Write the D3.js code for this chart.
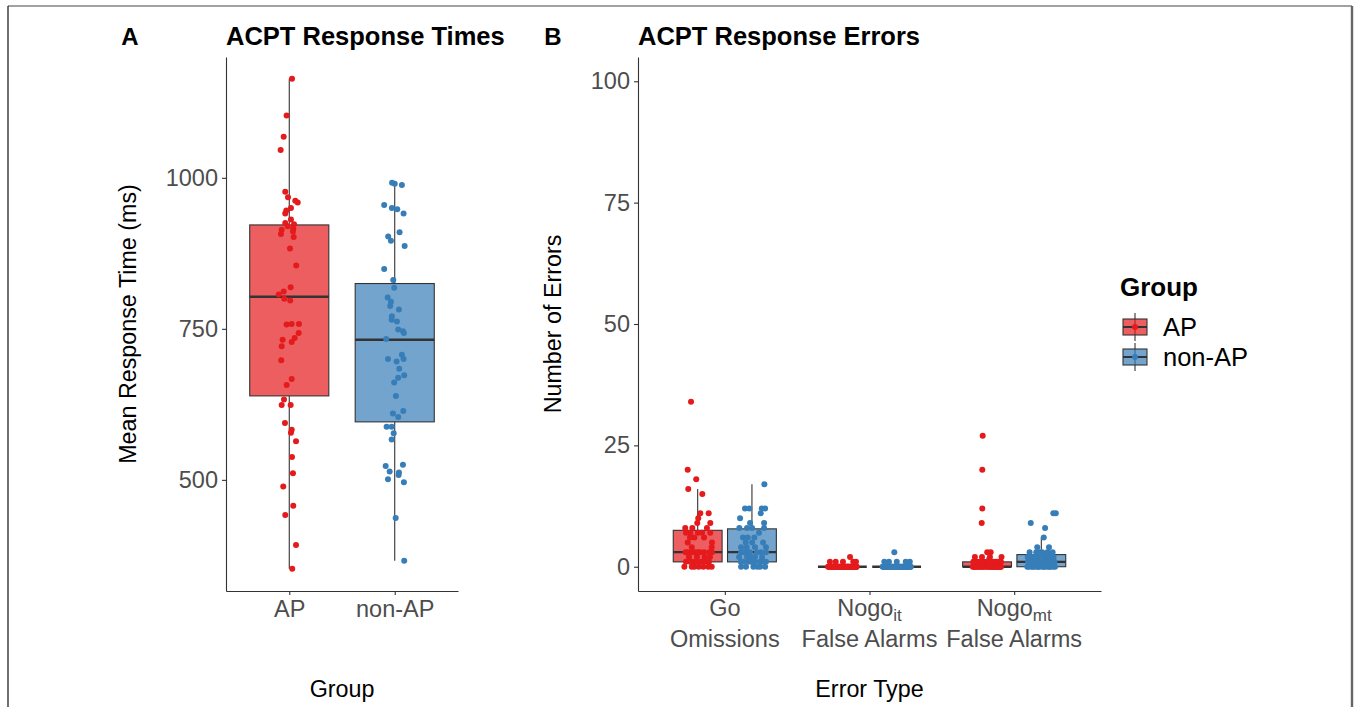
<!DOCTYPE html>
<html><head><meta charset="utf-8">
<script src="https://cdn.jsdelivr.net/npm/d3@7"></script>
<style>body{margin:0;background:#fff}svg{display:block}</style>
</head><body><svg id="c" width="1356" height="707"></svg>
<script>
// ---------------- DATA ----------------
const groups = ["AP", "non-AP"];
const errorTypes = [["Go", "", "Omissions"], ["Nogo", "it", "False Alarms"], ["Nogo", "mt", "False Alarms"]];
const rtTicks = [500, 750, 1000];
const errTicks = [0, 25, 50, 75, 100];

// Panel A: mean response times (ms) and jitter (category units)
const rtAP = [1164,1103,1068,1046,977,968,962,959,950,946,941,931,925,923,920,914,916,911,907,902,883,855,819,812,807,800,797,757,758,758,743,735,732,728,721,698,667,657,633,624,624,594,583,578,564,538,511,489,457,442,392,353];
const rtAPjit = [0.026,-0.025,-0.053,-0.082,-0.038,-0.012,0.057,0.080,0.016,-0.028,-0.038,0.016,-0.038,0.045,-0.015,-0.072,0.038,0.035,-0.079,0.042,0.007,0.066,0.013,-0.053,-0.100,-0.047,0.009,-0.025,0.023,0.092,0.089,0.051,-0.063,0.023,-0.072,-0.076,0.023,-0.025,-0.050,-0.072,0.013,-0.041,0.023,0.016,0.064,0.026,0.035,-0.057,0.038,-0.038,0.064,0.028];
const rtNon = [992,990,988,955,950,948,941,910,903,896,887,849,831,818,802,795,788,782,771,765,762,749,746,743,733,707,700,700,696,684,673,669,661,639,614,610,604,588,588,577,567,525,523,514,512,508,501,496,437,366];
const rtNonJit = [-0.025,0.0,0.068,-0.100,-0.027,0.024,0.084,0.046,-0.062,-0.036,0.094,-0.100,-0.014,-0.005,-0.067,-0.036,-0.043,0.040,-0.027,-0.029,0.021,0.033,0.078,0.087,-0.081,0.068,0.084,-0.064,0.018,0.043,0.090,0.033,-0.005,0.011,0.081,-0.017,0.033,-0.077,-0.029,-0.010,-0.029,0.078,-0.086,-0.048,0.040,0.037,-0.064,0.087,0.009,0.090];
// box statistics [AP, non-AP]
const rtLo = [353, 366], rtQ1 = [639, 596], rtMed = [803, 732], rtQ3 = [922, 825], rtHi = [1164, 992];

// Panel B: error counts per type, per group
const goAP = [0,0,0,0,0,0,0, 1,1,1,1,1,1,1, 2,2,2,2, 3,3,3,3,3,3,3,3,3, 4,4, 5,5, 6,6,6, 7,7,7,7,7, 8,8,8, 9,9, 10, 11,11, 15,16,18,20,34];
const goAPjit = [-0.092,-0.041,-0.023,0.007,0.039,0.073,0.097, -0.032,0.023,-0.081,-0.053,0.05,0.078,-0.005, -0.06,-0.005,0.048,0.085, -0.083,-0.017,0.016,0.08,-0.067,-0.039,0.044,0.099,0.002, -0.041,0.097, -0.069,0.099, -0.023,0.044,-0.053, -0.051,0.03,0.002,0.087,-0.081, -0.086,-0.037,0.064, -0.003,0.087, 0.004, 0.018,0.076, 0.032,-0.065,-0.01,-0.069,-0.046];
const goNon = [0,0,0,0,0,0, 1,1,1,1,1,1,1,1, 2,2,2,2,2, 3,3,3,3,3,3,3, 4,4,4,4, 5,5,5, 6,6,6, 7, 8,8,8,8, 9,9, 10, 11, 12,12,12,12, 17];
const goNonJit = [-0.041,0.01,0.037,0.091,-0.075,0.056, -0.062,-0.028,0.021,0.056,0.097,-0.077,-0.006,0.077, -0.089,-0.034,0.021,0.07,-0.006, -0.075,-0.041,-0.013,0.035,0.063,0.097,-0.055, -0.075,-0.036,0.021,0.097, -0.043,0.001,0.077, -0.062,-0.029,0.017, 0.049, -0.087,0.001,0.084,-0.034, -0.013,0.084, -0.082, 0.061, -0.048,-0.018,0.068,0.091, 0.086];
const itAP = [0,0,0,0,0,0,0,0,0,0,0,0,0,0,0,0,0,0,0,0,0,0,0,0,0,0,0,0,0,0,0,0,0,0,0,0,0,0,0,0,0,0,0,0,0,0, 1,1,1,1,1, 2];
const itAPjit = [0.012,-0.067,0.088,-0.031,0.045,-0.094,0.003,0.071,-0.052,0.026,-0.013,0.097,-0.078,0.058,-0.041,0.019,-0.086,0.079,-0.005,0.038,-0.059,0.093,-0.022,0.064,-0.099,0.031,-0.047,0.084,-0.016,0.051,-0.072,0.008,-0.035,0.075,-0.089,0.042,-0.026,0.099,-0.063,0.022,-0.008,0.067,-0.081,0.035,-0.054,0.091, -0.046,0.004,0.075,0.094,-0.086, 0.053];
const itNon = [0,0,0,0,0,0,0,0,0,0,0,0,0,0,0,0,0,0,0,0,0,0,0,0,0,0,0,0,0,0,0,0,0,0,0,0,0,0,0,0,0,0,0,0, 1,1,1,1,1, 3];
const itNonJit = [0.071,-0.018,0.046,-0.093,0.009,-0.057,0.087,-0.036,0.024,-0.075,0.061,-0.004,0.095,-0.048,0.033,-0.083,0.015,-0.027,0.079,-0.066,0.052,-0.011,0.098,-0.088,0.028,-0.042,0.068,0.004,-0.071,0.039,-0.097,0.057,-0.023,0.083,-0.061,0.019,-0.034,0.092,-0.079,0.044,-0.006,0.063,-0.051,0.011, -0.085,0.001,0.063,0.091,-0.053, -0.016];
const mtAP = [0,0,0,0,0,0,0,0,0,0,0,0,0,0,0,0,0,0,0,0,0,0,0,0,0,0,0,0, 1,1,1,1,1,1,1,1,1,1,1,1,1,1, 2,2,2,2, 3,3, 9, 12, 20, 27];
const mtAPjit = [-0.091,0.034,-0.046,0.082,-0.014,0.061,-0.072,0.007,0.097,-0.033,0.047,-0.086,0.021,-0.058,0.074,-0.004,0.039,-0.099,0.088,-0.025,0.055,-0.066,0.013,0.092,-0.041,0.029,-0.078,0.066, -0.083,-0.052,-0.021,0.012,0.043,0.071,0.096,-0.067,-0.036,0.003,0.028,0.058,0.085,-0.095, -0.084,-0.035,0.02,0.1, 0.001,0.025, -0.037, -0.033, -0.033, -0.03];
const mtNon = [0,0,0,0,0,0,0,0,0,0,0,0,0,0,0,0, 1,1,1,1,1,1,1,1,1,1,1,1, 2,2,2,2,2,2,2,2,2, 3,3,3,3,3,3, 4,4, 6, 8, 9, 11, 11];
const mtNonJit = [-0.088,-0.047,-0.012,0.026,0.064,0.095,-0.069,-0.029,0.008,0.045,0.081,-0.097,-0.058,0.017,0.055,-0.021, -0.079,-0.041,-0.003,0.036,0.073,-0.092,-0.055,0.019,0.058,0.091,-0.018,0.004, -0.094,-0.061,-0.027,0.011,0.049,0.085,-0.044,0.028,0.067, -0.081,-0.035,0.006,0.042,0.078,-0.013, -0.028,0.053, 0.017, 0.026, -0.073, 0.083, 0.1];
// box statistics, per error type [Go, Nogo_it, Nogo_mt]
const errLoAP = [0,0,0], errQ1AP = [1,0,0], errMedAP = [3,0,0], errQ3AP = [7.5,0,1], errHiAP = [16,0,2];
const errLoNon = [0,0,0], errQ1Non = [1,0,0], errMedNon = [3,0,1], errQ3Non = [7.8,0,2.5], errHiNon = [17,0,6];

// ---------------- DRAWING ----------------
const svg = d3.select('#c');
const FONT = "'Liberation Sans', Arial, Helvetica, sans-serif";
const colors = ["#E41A1C", "#377EB8"];
const INK = "#333333", TICKTXT = "#4D4D4D";
const TICKSIZE = 23.5;
svg.append('rect').attr('width',1356).attr('height',707).attr('fill','#fff');

// outer frame
svg.append('line').attr('x1',8).attr('x2',1352).attr('y1',6).attr('y2',6).attr('stroke','#444').attr('stroke-width',1.2);
svg.append('line').attr('x1',8).attr('x2',8).attr('y1',6).attr('y2',707).attr('stroke','#111').attr('stroke-width',1.2);
svg.append('line').attr('x1',1352).attr('x2',1352).attr('y1',6).attr('y2',707).attr('stroke','#666').attr('stroke-width',2.4);

function styleAxis(g) {
  g.selectAll('path.domain').attr('stroke', INK).attr('stroke-width', 1.1);
  g.selectAll('.tick line').attr('stroke', INK).attr('stroke-width', 1.1);
  g.selectAll('.tick text').attr('fill', TICKTXT).style('font-family', FONT).style('font-size', TICKSIZE + 'px');
}

function drawBox(g, cx, halfW, lo, q1, med, q3, hi, color, y) {
  g.append('line').attr('x1',cx).attr('x2',cx).attr('y1',y(q3)).attr('y2',y(hi)).attr('stroke',INK).attr('stroke-width',1.1);
  g.append('line').attr('x1',cx).attr('x2',cx).attr('y1',y(q1)).attr('y2',y(lo)).attr('stroke',INK).attr('stroke-width',1.1);
  g.append('rect').attr('x',cx-halfW).attr('width',2*halfW).attr('y',y(q3)).attr('height',Math.max(0,y(q1)-y(q3)))
    .attr('fill',color).attr('fill-opacity',0.7).attr('stroke',INK).attr('stroke-width',1.1);
  g.append('line').attr('x1',cx-halfW).attr('x2',cx+halfW).attr('y1',y(med)).attr('y2',y(med)).attr('stroke',INK).attr('stroke-width',2.4);
}

function drawPoints(g, vals, jit, xFn, y, color) {
  g.selectAll(null).data(vals.map((v,i)=>({v, j: jit[i]}))).enter().append('circle')
    .attr('cx', d => xFn(d.j)).attr('cy', d => y(d.v)).attr('r', 3).attr('fill', color);
}

// ---- Panel A ----
const xA = d3.scaleLinear().domain([0.4, 2.6]).range([226, 458]);
const yA = d3.scaleLinear().domain([316, 1200]).range([591, 57]);
const gA = svg.append('g');
const gAy = gA.append('g').attr('transform','translate(226,0)')
  .call(d3.axisLeft(yA).tickValues(rtTicks).tickFormat(d3.format('d')).tickSize(4).tickSizeOuter(0).tickPadding(4));
styleAxis(gAy);
const gAx = gA.append('g').attr('transform','translate(0,591)')
  .call(d3.axisBottom(xA).tickValues([1,2]).tickFormat(i => groups[i-1]).tickSize(4).tickSizeOuter(0).tickPadding(5));
styleAxis(gAx);

const rtVals = [rtAP, rtNon], rtJit = [rtAPjit, rtNonJit];
const halfA = 0.75/2 * (xA(1)-xA(0));
groups.forEach((grp, gi) => {
  drawBox(gA, xA(gi+1), halfA, rtLo[gi], rtQ1[gi], rtMed[gi], rtQ3[gi], rtHi[gi], colors[gi], yA);
});
groups.forEach((grp, gi) => {
  drawPoints(gA, rtVals[gi], rtJit[gi], j => xA(gi+1+j), yA, colors[gi]);
});

// ---- Panel B ----
const xB = d3.scaleLinear().domain([0.4, 3.6]).range([638, 1101]);
const yB = d3.scaleLinear().domain([-5, 105]).range([591, 57]);
const gB = svg.append('g');
const gBy = gB.append('g').attr('transform','translate(638,0)')
  .call(d3.axisLeft(yB).tickValues(errTicks).tickFormat(d3.format('d')).tickSize(4).tickSizeOuter(0).tickPadding(4));
styleAxis(gBy);
const gBx = gB.append('g').attr('transform','translate(0,591)')
  .call(d3.axisBottom(xB).tickValues([1,2,3]).tickFormat('').tickSize(4).tickSizeOuter(0));
styleAxis(gBx);
errorTypes.forEach((t, i) => {
  const tx = gB.append('text').attr('x', xB(i+1)).attr('y', 616).attr('text-anchor','middle')
    .attr('fill', TICKTXT).style('font-family', FONT).style('font-size', TICKSIZE + 'px');
  tx.append('tspan').text(t[0]);
  if (t[1]) tx.append('tspan').attr('dy', 5).style('font-size','17px').text(t[1]);
  gB.append('text').attr('x', xB(i+1)).attr('y', 647).attr('text-anchor','middle')
    .attr('fill', TICKTXT).style('font-family', FONT).style('font-size', TICKSIZE + 'px').text(t[2]);
});

const dodge = 0.1875, halfB = 0.375*0.9/2 * (xB(1)-xB(0));
const errVals = [[goAP, itAP, mtAP], [goNon, itNon, mtNon]];
const errJit = [[goAPjit, itAPjit, mtAPjit], [goNonJit, itNonJit, mtNonJit]];
const errStats = [
  [errLoAP, errQ1AP, errMedAP, errQ3AP, errHiAP],
  [errLoNon, errQ1Non, errMedNon, errQ3Non, errHiNon]
];
errorTypes.forEach((t, ti) => {
  groups.forEach((grp, gi) => {
    const c = ti + 1 + (gi === 0 ? -dodge : dodge);
    const s = errStats[gi];
    drawBox(gB, xB(c), halfB, s[0][ti], s[1][ti], s[2][ti], s[3][ti], s[4][ti], colors[gi], yB);
  });
});
errorTypes.forEach((t, ti) => {
  groups.forEach((grp, gi) => {
    const c = ti + 1 + (gi === 0 ? -dodge : dodge);
    drawPoints(gB, errVals[gi][ti], errJit[gi][ti], j => xB(c + j), yB, colors[gi]);
  });
});

// ---- Titles & axis titles ----
function txt(x, y, s, size, opts = {}) {
  const t = svg.append('text').attr('x', x).attr('y', y).text(s)
    .style('font-family', FONT).style('font-size', size + 'px')
    .attr('fill', opts.fill || '#000').attr('text-anchor', opts.anchor || 'start');
  if (opts.bold) t.style('font-weight', 'bold');
  if (opts.rotate) t.attr('transform', `rotate(-90,${x},${y})`);
  return t;
}
txt(130, 45, 'A', 24, {bold: true, anchor: 'middle'});
txt(226, 45, 'ACPT Response Times', 25.5, {bold: true});
txt(553, 45, 'B', 24, {bold: true, anchor: 'middle'});
txt(638, 45, 'ACPT Response Errors', 25.5, {bold: true});
txt(342, 697, 'Group', 23.3, {anchor: 'middle'});
txt(869.5, 697, 'Error Type', 23.3, {anchor: 'middle'});
txt(136, 324, 'Mean Response Time (ms)', 23.3, {anchor: 'middle', rotate: true});
txt(561, 324, 'Number of Errors', 23.3, {anchor: 'middle', rotate: true});

// ---- Legend ----
const leg = svg.append('g');
txt(1120, 296, 'Group', 26, {bold: true});
groups.forEach((grp, gi) => {
  const cy = 327 + gi * 30, x0 = 1123, w = 24, h = 16;
  const cx = x0 + w / 2;
  leg.append('line').attr('x1', cx).attr('x2', cx).attr('y1', cy - 14).attr('y2', cy + 14).attr('stroke', INK).attr('stroke-width', 1.1);
  leg.append('rect').attr('x', x0).attr('y', cy - h/2).attr('width', w).attr('height', h)
    .attr('fill', colors[gi]).attr('fill-opacity', 0.7).attr('stroke', INK).attr('stroke-width', 1.1);
  leg.append('line').attr('x1', x0).attr('x2', x0 + w).attr('y1', cy).attr('y2', cy).attr('stroke', INK).attr('stroke-width', 2);
  leg.append('circle').attr('cx', cx).attr('cy', cy).attr('r', 3).attr('fill', colors[gi]);
  txt(1163, cy + 9, grp, 25.5);
});
</script></body></html>
